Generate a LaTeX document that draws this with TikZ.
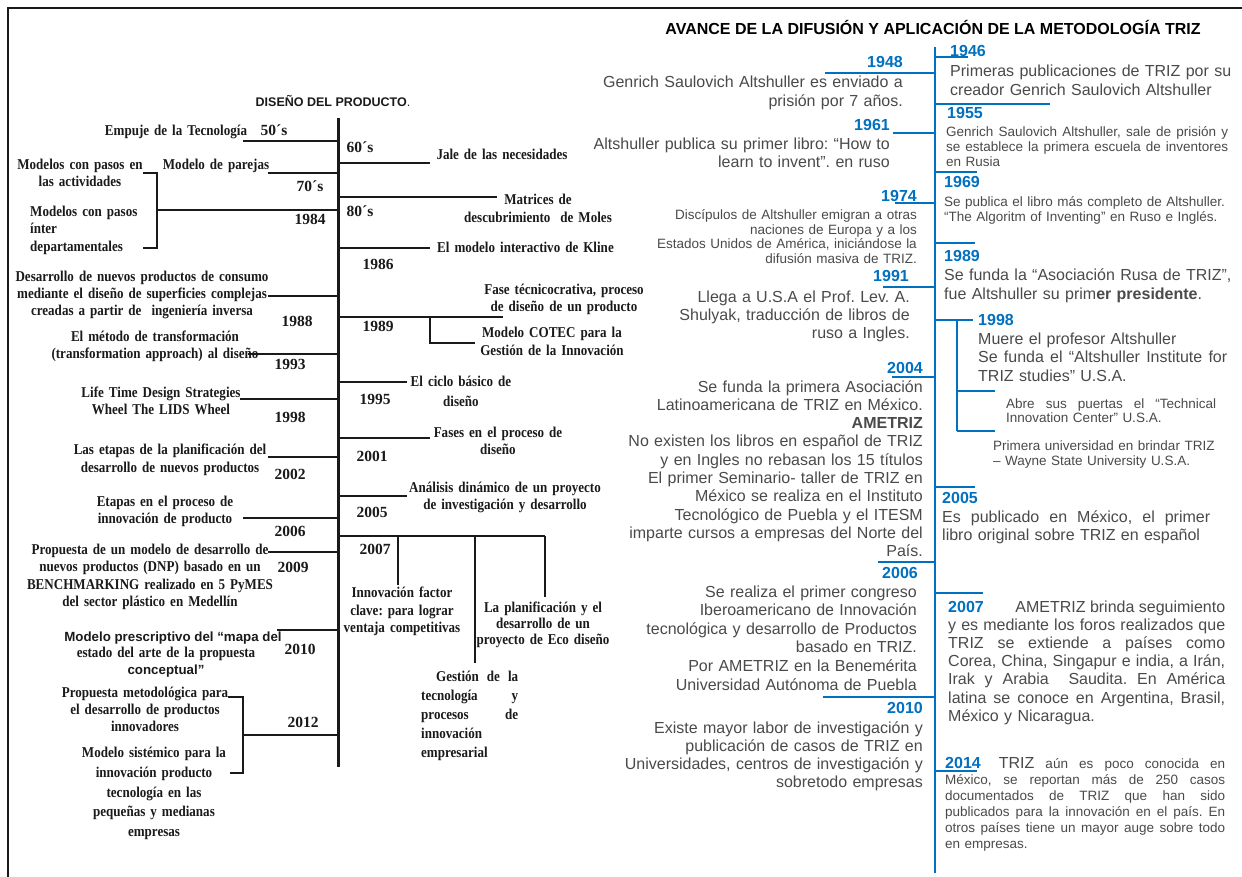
\documentclass[tikz,border=0pt]{standalone}
\usepackage{fontspec}
\newfontfamily\asf{Liberation Sans}
\newfontfamily\lsf[FakeStretch=0.87]{Liberation Serif}
\newfontfamily\lsn{Liberation Serif}
\definecolor{tblue}{HTML}{0070C0}
\definecolor{tgray}{HTML}{4A4A4A}
\definecolor{lblk}{HTML}{1A1A1A}
\newcommand{\jl}[1]{\makebox[\linewidth][s]{\spaceskip=\fontdimen2\font plus 1fil\relax #1}\\}
\newcommand{\yr}[1]{{\color{tblue}\bfseries #1}}
\frenchspacing
\tikzset{
  lt/.style={font=\lsf\bfseries\fontsize{15}{#1}\selectfont, text=lblk, inner sep=0pt, text width=260pt, align=center, anchor=base},
  lt/.default=17,
  ll/.style={font=\lsf\bfseries\fontsize{15}{#1}\selectfont, text=lblk, inner sep=0pt, text width=200pt, align=left, anchor=base west},
  ll/.default=17,
  ls/.style={font=\asf\bfseries\fontsize{13.3}{15}\selectfont, text=lblk, inner sep=0pt, anchor=base},
  ly/.style={font=\lsn\bfseries\fontsize{15.5}{17}\selectfont, text=lblk, inner sep=0pt, anchor=base},
  bk/.style={line width=1.2pt, draw=lblk},
  bl/.style={line width=2pt, draw=tblue},
  yrl/.style={font=\asf\bfseries\fontsize{16}{18}\selectfont, text=tblue, inner sep=0pt, anchor=base east},
  yrr/.style={font=\asf\bfseries\fontsize{16}{18}\selectfont, text=tblue, inner sep=0pt, anchor=base west},
  rR/.style={font=\frenchspacing\asf\fontsize{16}{#1}\selectfont, text=tgray, inner sep=0pt, text width=330pt, align=right, anchor=base east},
  rR/.default=18.5,
  rL/.style={font=\frenchspacing\asf\fontsize{16}{#1}\selectfont, text=tgray, inner sep=0pt, text width=300pt, align=left, anchor=base west},
  rL/.default=18.5,
  sR/.style={font=\frenchspacing\asf\fontsize{13.5}{#1}\selectfont, text=tgray, inner sep=0pt, text width=330pt, align=right, anchor=base east},
  sR/.default=15,
  sL/.style={font=\frenchspacing\asf\fontsize{13.5}{#1}\selectfont, text=tgray, inner sep=0pt, text width=300pt, align=left, anchor=base west},
  sL/.default=15
}
\begin{document}
\begin{tikzpicture}[x=1pt,y=-1pt]
\useasboundingbox (0,0) rectangle (1242,877);
\fill[white] (0,0) rectangle (1242,877);
% frame
\draw[line width=1.2pt, lblk] (8,877) -- (8,8) -- (1242,8);

% ---------------- LEFT: DISEÑO DEL PRODUCTO ----------------
\node[font=\asf\fontsize{12.5}{14}\selectfont, text=lblk, inner sep=0pt, anchor=base] (hdrL) at (333,107) {\textbf{DISEÑO DEL PRODUCTO}.};

% black ticks and brackets
\draw[bk] (243,141) -- (338,141);
\draw[bk] (338,163) -- (430,163);
\draw[bk] (268,173) -- (338,173);
\draw[bk] (143,173) -- (157,173) -- (157,248) -- (143,248);
\draw[bk] (157,210) -- (338,210);
\draw[bk] (338,197) -- (497,197);
\draw[bk] (338,248) -- (430,248);
\draw[bk] (268,296) -- (338,296);
\draw[bk] (338,317) -- (503,317);
\draw[bk] (430,317) -- (430,343) -- (475,343);
\draw[bk] (248,354) -- (338,354);
\draw[bk] (338,382) -- (407,382);
\draw[bk] (240,399) -- (338,399);
\draw[bk] (338,438) -- (430,438);
\draw[bk] (268,457) -- (338,457);
\draw[bk] (338,496) -- (407,496);
\draw[bk] (243,518) -- (338,518);
\draw[bk] (338,536) -- (545,536);
\draw[bk] (398,536) -- (398,585);
\draw[bk] (475,536) -- (475,663);
\draw[bk] (545,536) -- (545,597);
\draw[bk] (268,552) -- (338,552);
\draw[bk] (277,630) -- (338,630);
\draw[bk] (228,697) -- (243,697) -- (243,773) -- (230,773);
\draw[bk] (243,735) -- (338,735);
% black axis
\draw[line width=3pt, lblk] (338,118) -- (338,767);

% left texts
\node[lt] (empuje) at (176,136) {Empuje de la Tecnología};
\node[ly] (d50) at (274,136) {50´s};
\node[lt] (mpasos) at (80,170) {Modelos con pasos en\\las actividades};
\node[lt] (mparejas) at (216,170) {Modelo de parejas};
\node[ly] (d70) at (310,191.5) {70´s};
\node[ll=17.5] (minter) at (30,216.5) {Modelos con pasos\\ínter\\departamentales};
\node[ly] (d1984) at (310,224.5) {1984};
\node[lt] (desarrollo) at (142,281.5) {Desarrollo de nuevos productos de consumo\\mediante el diseño de superficies complejas\\creadas a partir de\ \ ingeniería inversa};
\node[ly] (d1988) at (297,326.5) {1988};
\node[lt=16.5] (metodo) at (155,341.5) {El método de transformación\\(transformation approach) al diseño};
\node[ly] (d1993) at (290,369.5) {1993};
\node[lt] (lids) at (161,397.5) {Life Time Design Strategies\\Wheel The LIDS Wheel};
\node[ly] (d1998) at (290,422.5) {1998};
\node[lt=18] (etapas) at (170,454.5) {Las etapas de la planificación del\\desarrollo de nuevos productos};
\node[ly] (d2002) at (290,479.5) {2002};
\node[lt=16.5] (etapas2) at (165,506.5) {Etapas en el proceso de\\innovación de producto};
\node[ly] (d2006) at (290,536.5) {2006};
\node[lt=17.3] (dnp) at (150,554.5) {Propuesta de un modelo de desarrollo de\\nuevos productos (DNP) basado en un\\BENCHMARKING realizado en 5 PyMES\\del sector plástico en Medellín};
\node[ly] (d2009) at (293,572.5) {2009};
\node[ls] (mp1) at (173,641.5) {Modelo prescriptivo del “mapa del};
\node[lt] (mp2) at (166,657.5) {estado del arte de la propuesta};
\node[ls] (mp3) at (166,674.5) {conceptual”};
\node[ly] (d2010) at (300,654.5) {2010};
\node[lt] (pmet) at (145,697.5) {Propuesta metodológica para\\el desarrollo de productos\\innovadores};
\node[ly] (d2012) at (303,727.5) {2012};
\node[lt=19.8] (msis) at (154,757.5) {Modelo sistémico para la\\innovación producto\\tecnología en las\\pequeñas y medianas\\empresas};

% right of black axis
\node[ly] (d60) at (360,152.5) {60´s};
\node[lt] (jale) at (502,159.5) {Jale de las necesidades};
\node[lt=18] (matrices) at (538,204.5) {Matrices de\\descubrimiento\ \ de Moles};
\node[ly] (d80) at (360,216.5) {80´s};
\node[ll] (kline) at (437,252.5) {El modelo interactivo de Kline};
\node[ly] (d1986) at (378,269.5) {1986};
\node[lt] (fase) at (564,294.5) {Fase técnicocrativa, proceso\\de diseño de un producto};
\node[ly] (d1989) at (378,331.5) {1989};
\node[lt=18] (cotec) at (552,337.5) {Modelo COTEC para la\\Gestión de la Innovación};
\node[lt=20] (ciclo) at (461,386.5) {El ciclo básico de\\diseño};
\node[ly] (d1995) at (375,404.5) {1995};
\node[lt] (fases) at (498,437.5) {Fases en el proceso de\\diseño};
\node[ly] (d2001) at (372,461.5) {2001};
\node[lt] (analisis) at (505,492.5) {Análisis dinámico de un proyecto\\de investigación y desarrollo};
\node[ly] (d2005) at (372,517.5) {2005};
\node[ly] (d2007) at (375,554.5) {2007};
\node[lt=17.5] (innov) at (402,597.5) {Innovación factor\\clave: para lograr\\ventaja competitivas};
\node[lt=16] (eco) at (543,612.5) {La planificación y el\\desarrollo de un\\proyecto de Eco diseño};
\node[ll=19, text width=97pt] (gestion) at (421,681.5) {\jl{\hspace*{15pt}Gestión de la}\jl{tecnología y}\jl{procesos de}innovación\\empresarial};

% ---------------- RIGHT: TRIZ ----------------
\node[font=\asf\bfseries\fontsize{16}{17}\selectfont, text=black, inner sep=0pt, anchor=base] (hdrR) at (933,35) {AVANCE DE LA DIFUSIÓN Y APLICACIÓN DE LA METODOLOGÍA TRIZ};

% blue lines left of axis
\draw[bl] (825,73) -- (935,73);
\draw[bl] (893,133) -- (935,133);
\draw[bl] (895,203) -- (935,203);
\draw[bl] (883,287) -- (935,287);
\draw[bl] (892,377) -- (935,377);
\draw[bl] (878,562) -- (935,562);
\draw[bl] (823,697) -- (935,697);
% blue lines right of axis
\draw[bl] (935,57) -- (968,57);
\draw[bl] (935,104) -- (1050,104);
\draw[bl] (935,172) -- (977,172);
\draw[bl] (935,243) -- (975,243);
\draw[bl] (935,320) -- (973,320);
\draw[bl] (957,320) -- (957,431);
\draw[bl] (957,391) -- (995,391);
\draw[bl] (957,431) -- (995,431);
\draw[bl] (935,487) -- (975,487);
\draw[bl] (935,593) -- (983,593);
\draw[bl] (935,771) -- (977,771);
% blue axis
\draw[line width=2.5pt, tblue] (935,47) -- (935,873);

% left-of-axis texts
\node[yrl] (y1948) at (903,68) {1948};
\node[rR=19] (t1948) at (903,88) {Genrich Saulovich Altshuller es enviado a\\prisión por 7 años.};
\node[yrl] (y1961) at (890,131) {1961};
\node[rR=18] (t1961) at (890,150) {Altshuller publica su primer libro: “How to\\learn to invent”. en ruso};
\node[yrl] (y1974) at (917,202) {1974};
\node[sR=14.5] (t1974) at (917,220) {Discípulos de Altshuller emigran a otras\\naciones de Europa y a los\\Estados Unidos de América, iniciándose la\\difusión masiva de TRIZ.};
\node[yrl] (y1991) at (909,282) {1991};
\node[rR=18] (t1991) at (910,302) {Llega a U.S.A el Prof. Lev. A.\\Shulyak, traducción de libros de\\ruso a Ingles.};
\node[yrl] (y2004) at (923,373) {2004};
\node[rR=18.33] (t2004) at (923,392) {Se funda la primera Asociación\\Latinoamericana de TRIZ en México.\\\textbf{AMETRIZ}\\No existen los libros en español de TRIZ\\y en Ingles no rebasan los 15 títulos\\El primer Seminario- taller de TRIZ en\\México se realiza en el Instituto\\Tecnológico de Puebla y el ITESM\\imparte cursos a empresas del Norte del\\País.};
\node[yrl] (y2006) at (918,578) {2006};
\node[rR=18.6] (t2006) at (917,597) {Se realiza el primer congreso\\Iberoamericano de Innovación\\tecnológica y desarrollo de Productos\\basado en TRIZ.\\Por AMETRIZ en la Benemérita\\Universidad Autónoma de Puebla};
\node[yrl] (y2010) at (923,713) {2010};
\node[rR=18.3] (t2010) at (923,733) {Existe mayor labor de investigación y\\publicación de casos de TRIZ en\\Universidades, centros de investigación y\\sobretodo empresas};

% right-of-axis texts
\node[yrr] (y1946) at (950,57) {1946};
\node[rL] (t1946) at (950,77) {Primeras publicaciones de TRIZ por su\\creador Genrich Saulovich Altshuller};
\node[yrr] (y1955) at (947,119) {1955};
\node[sL=15, text width=282pt] (t1955) at (946,137) {\jl{Genrich Saulovich Altshuller, sale de prisión y}\jl{se establece la primera escuela de inventores}en Rusia};
\node[yrr] (y1969) at (944,188) {1969};
\node[sL=15] (t1969) at (944,207) {Se publica el libro más completo de Altshuller.\\“The Algoritm of Inventing” en Ruso e Inglés.};
\node[yrr] (y1989) at (944,262) {1989};
\node[rL=20] (t1989) at (944,280) {Se funda la “Asociación Rusa de TRIZ”,\\fue Altshuller su prim\textbf{er presidente}.};
\node[yrr] (y1998) at (978,326) {1998};
\node[rL=18.5, text width=249pt] (t1998) at (978,344) {Muere el profesor Altshuller\\\jl{Se funda el “Altshuller Institute for}TRIZ studies” U.S.A.};
\node[sL=14, text width=210pt] (ttic) at (1006,408.5) {\jl{Abre sus puertas el “Technical}Innovation Center” U.S.A.};
\node[sL=15] (twsu) at (993,450.5) {Primera universidad en brindar TRIZ\\– Wayne State University U.S.A.};
\node[yrr] (y2005) at (942,503) {2005};
\node[rL=18, text width=268pt] (t2005) at (942,522) {\jl{Es publicado en México, el primer}libro original sobre TRIZ en español};
\node[rL=18.2, text width=277pt] (t2007) at (948,612) {\jl{\yr{2007}\hfill AMETRIZ brinda seguimiento}\jl{y es mediante los foros realizados que}\jl{TRIZ se extiende a países como}\jl{Corea, China, Singapur e india, a Irán,}\jl{Irak y Arabia\ \ Saudita. En América}\jl{latina se conoce en Argentina, Brasil,}México y Nicaragua.};
\node[sL=16, text width=280pt] (t2014) at (945,768) {\jl{{\fontsize{16}{16}\selectfont\yr{2014}\hspace{18pt}TRIZ} aún es poco conocida en}\jl{México, se reportan más de 250 casos}\jl{documentados de TRIZ que han sido}\jl{publicados para la innovación en el país. En}\jl{otros países tiene un mayor auge sobre todo}en empresas.};
\end{tikzpicture}
\end{document}
